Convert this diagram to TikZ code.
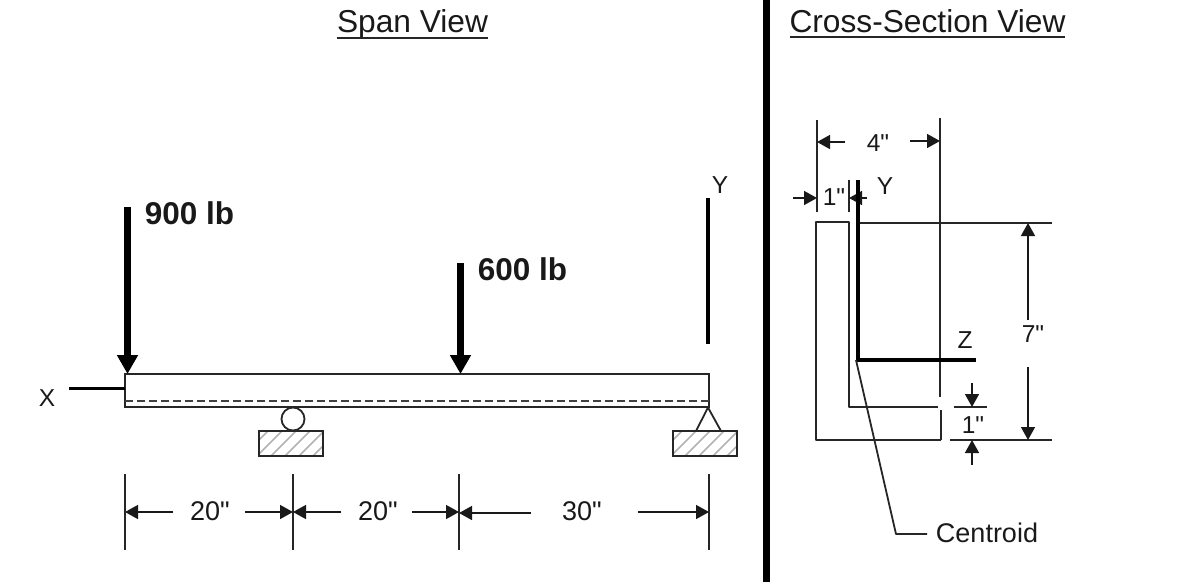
\documentclass[tikz,border=0pt]{standalone}
\usepackage{fontspec}
\setmainfont{Liberation Sans}[Ligatures=TeXOff]
\usetikzlibrary{arrows.meta}
\tikzset{
  x=1pt,y=-1pt,
  ln/.style={draw=black!85,line width=1.8pt},
  thick bar/.style={draw=black,line width=3.6pt},
  dimarrow/.style={draw=black!90,line width=1.5pt,-{Triangle[length=13pt,width=14pt]}},
  force/.style={draw=black,line width=6.5pt,-{Triangle[length=19pt,width=20pt]},shorten >=0pt},
  lab/.style={inner sep=0pt,font=\fontsize{27}{30}\selectfont,text=black!90},
  smalllab/.style={inner sep=0pt,font=\fontsize{24.5}{28}\selectfont,text=black!90},
  title/.style={inner sep=0pt,font=\fontsize{31.7}{34}\selectfont,text=black!90},
  load/.style={inner sep=0pt,font=\fontsize{31.5}{34}\selectfont\bfseries,text=black!90},
  support/.style={rectangle,draw=black!85,line width=1.8pt,minimum width=64pt,minimum height=25pt,inner sep=0pt,
    path picture={\foreach \k in {-30,-16,...,100}{
      \draw[black!30,line width=1.6pt] ([xshift=\k pt]path picture bounding box.south west) -- ++(32pt,32pt);}}},
}
\begin{document}
\begin{tikzpicture}
\useasboundingbox (0,0) rectangle (1178,582);
% titles
\node[title] (t1) at (412.5,24) {Span View};
\node[title] (t2) at (927.5,21.5) {Cross-Section View};
\coordinate (t1a) at (337,38); \coordinate (t1b) at (488,38);
\coordinate (t2a) at (790,37); \coordinate (t2b) at (1065,37);
\draw[ln] (t1a) -- (t1b);
\draw[ln] (t2a) -- (t2b);
% divider
\coordinate (da) at (766,0); \coordinate (db) at (766,582);
\draw[black,line width=7pt] (da) -- (db);
% beam
\node[rectangle,ln,minimum width=584pt,minimum height=33pt,inner sep=0pt] (beam) at (417,390.5) {};
\coordinate (dl) at (125,401); \coordinate (dr) at (709,401);
\draw[black!75,line width=2.2pt,dash pattern=on 8pt off 4pt] (dl) -- (dr);
\coordinate (xa) at (69,388.5); \coordinate (xb) at (125,388.5);
\draw[thick bar] (xa) -- (xb);
\node[smalllab] (xl) at (47,398) {X};
% loads
\coordinate (fa1) at (127.5,207); \coordinate (fa2) at (127.5,374);
\coordinate (fb1) at (460.5,263); \coordinate (fb2) at (460.5,374);
\draw[force] (fa1) -- (fa2);
\draw[force] (fb1) -- (fb2);
\node[load] (l900) at (189.5,213.5) {900 lb};
\node[load] (l600) at (522.5,269.5) {600 lb};
% span Y
\coordinate (ya) at (708,198); \coordinate (yb) at (708,344);
\draw[thick bar] (ya) -- (yb);
\node[smalllab] (yl) at (720,185) {Y};
% supports
\node[support] (s1) at (291,443.5) {};
\node[support] (s2) at (705,443.5) {};
\node[circle,ln,minimum size=23pt,inner sep=0pt] (roller) at (293,419) {};
\coordinate (ta) at (708,407.5); \coordinate (tb) at (696,431); \coordinate (tc) at (721,431);
\draw[ln,line join=round] (tb) -- (ta) -- (tc);
% span dimensions
\foreach \n/\x in {a/125,b/293,c/459,d/709}{
  \coordinate (e\n1) at (\x,474); \coordinate (e\n2) at (\x,550);
  \draw[ln] (e\n1) -- (e\n2);
}
\coordinate (p1) at (173,512); \coordinate (q1) at (125,512);
\coordinate (p2) at (245,512); \coordinate (q2) at (293,512);
\coordinate (p3) at (341,512); \coordinate (p4) at (412,512); \coordinate (q4) at (459,512);
\coordinate (p5) at (531,513); \coordinate (q5) at (459,513);
\coordinate (p6) at (638,512); \coordinate (q6) at (709,512);
\draw[dimarrow] (p1) -- (q1);
\draw[dimarrow] (p2) -- (q2);
\draw[dimarrow] (p3) -- (q2);
\draw[dimarrow] (p4) -- (q4);
\draw[dimarrow] (p5) -- (q5);
\draw[dimarrow] (p6) -- (q6);
\node[lab] (d1) at (210,511) {20"};
\node[lab] (d2) at (378,511) {20"};
\node[lab] (d3) at (582,511) {30"};
% cross section L
\coordinate (L1) at (816,440); \coordinate (L2) at (816,222); \coordinate (L3) at (849,222);
\coordinate (L4) at (849,407); \coordinate (L5) at (938,407);
\coordinate (L6) at (941,410); \coordinate (L7) at (941,440);
\draw[ln,line join=round] (L7) -- (L1) -- (L2) -- (L3) -- (L4) -- (L5);
\draw[ln] (L6) -- (L7);
% cross dimension lines
\coordinate (c1) at (817,120); \coordinate (c2) at (817,212);
\coordinate (c3) at (940,118); \coordinate (c4) at (940,397);
\coordinate (c5) at (849,180); \coordinate (c6) at (849,212);
\coordinate (c7) at (858,223); \coordinate (c8) at (1052,223);
\coordinate (c9) at (950,440); \coordinate (c10) at (1052,440);
\coordinate (c11) at (954,407); \coordinate (c12) at (987,407);
\draw[ln] (c1) -- (c2);
\draw[ln] (c3) -- (c4);
\draw[ln] (c5) -- (c6);
\draw[ln] (c7) -- (c8);
\draw[ln] (c9) -- (c10);
\draw[ln] (c11) -- (c12);
% cross dimension arrows
\coordinate (a1) at (845,142); \coordinate (b1) at (817,142);
\coordinate (a2) at (910,141); \coordinate (b2) at (940,141);
\coordinate (a3) at (793,198); \coordinate (b3) at (817,198);
\coordinate (a4) at (867,198); \coordinate (b4) at (849,198);
\coordinate (a5) at (1028,320); \coordinate (b5) at (1028,223);
\coordinate (a6) at (1028,367); \coordinate (b6) at (1028,440);
\coordinate (a7) at (972,383); \coordinate (b7) at (972,407);
\coordinate (a8) at (972,465); \coordinate (b8) at (972,440);
\foreach \i in {1,...,8}{\draw[dimarrow] (a\i) -- (b\i);}
% axes
\coordinate (za) at (858,180); \coordinate (zo) at (858,360); \coordinate (zb) at (976,360);
\draw[thick bar,line join=miter] (za) -- (zo) -- (zb);
% centroid leader
\coordinate (g1) at (856,360); \coordinate (g2) at (896,534); \coordinate (g3) at (927,534);
\draw[ln,line join=round] (g1) -- (g2) -- (g3);
% cross labels
\node[smalllab] (n4) at (878,143) {4"};
\node[smalllab] (nY) at (885,186) {Y};
\node[smalllab] (n1a) at (834,197) {1"};
\node[smalllab] (n7) at (1033,334) {7"};
\node[smalllab] (nZ) at (965,340) {Z};
\node[smalllab] (n1b) at (973,425) {1"};
\node[lab] (nC) at (987,533) {Centroid};
\end{tikzpicture}
\end{document}
